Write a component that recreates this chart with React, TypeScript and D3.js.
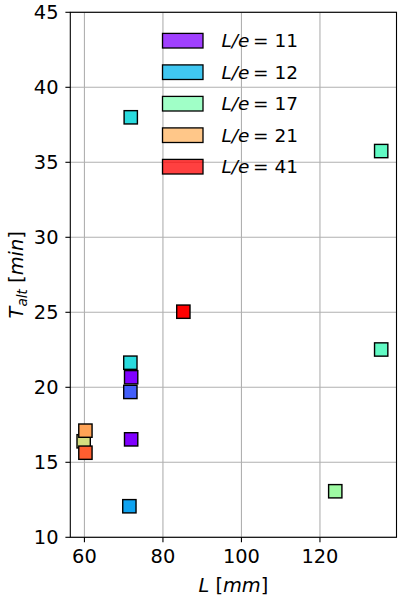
import React from "react";
import * as d3 from "d3";

// Data
const lengths = [71.8, 135.6, 85.2, 59.8, 71.7, 71.9, 71.7, 71.9, 60.25, 60.25, 71.45, 135.6, 123.9];
const times = [38.0, 35.75, 25.04, 16.4, 21.64, 20.67, 19.69, 16.53, 17.11, 15.64, 12.07, 22.52, 13.07];
const colorParams = [0.33, 0.44, 1.0, 0.665, 0.33, 0.0, 0.12, 0.0, 0.78, 0.88, 0.22, 0.44, 0.56];

const legendValues = [11, 12, 17, 21, 41];
const legendParams = [0, 0.25, 0.5, 0.75, 1];

const xTicks = [60, 80, 100, 120];
const yTicks = [10, 15, 20, 25, 30, 35, 40, 45];

// matplotlib "rainbow" colormap
function rainbow(t: number): string {
  const clip = (v: number) => Math.max(0, Math.min(1, v));
  const r = clip(Math.abs(2 * t - 0.5));
  const g = clip(Math.sin(Math.PI * t));
  const b = clip(Math.cos((Math.PI * t) / 2));
  return d3.rgb(r * 255, g * 255, b * 255).formatHex();
}

const FONT = "DejaVu Sans";

export default function App() {
  const W = 400;
  const H = 600;
  const left = 70.3;
  const right = 396.5;
  const top = 12.3;
  const bottom = 537.3;

  const x = d3.scaleLinear().domain([56.4, 139.5]).range([left, right]);
  const y = d3.scaleLinear().domain([10, 45]).range([bottom, top]);

  const ms = 13.3;
  const gridColor = "#b0b0b0";

  return (
    <svg
      width={W}
      height={H}
      style={{ position: "absolute", left: 0, top: 0, background: "#fff" }}
      fontFamily={FONT}
    >
      <rect x={0} y={0} width={W} height={H} fill="#fff" />
      {/* grid */}
      <g>
        {xTicks.map((t) => (
          <line key={"gx" + t} x1={x(t)} x2={x(t)} y1={top} y2={bottom} stroke={gridColor} strokeWidth={1.1} />
        ))}
        {yTicks.map((t) => (
          <line key={"gy" + t} x1={left} x2={right} y1={y(t)} y2={y(t)} stroke={gridColor} strokeWidth={1.1} />
        ))}
      </g>

      {/* legend (no frame) */}
      <g>
        {legendValues.map((v, i) => {
          const cy = 40.7 + i * 31.5;
          return (
            <g key={"lg" + v}>
              <rect
                x={162.5}
                y={cy - 7.3}
                width={40.5}
                height={14.6}
                fill={rainbow(legendParams[i])}
                fillOpacity={0.75}
                stroke="#000"
                strokeWidth={1.3}
              />
              <text x={221.5} y={cy + 6.7} fontSize={18.5} fill="#000">
                <tspan fontStyle="italic">L/e</tspan>
                <tspan>{"\u2009= " + v}</tspan>
              </text>
            </g>
          );
        })}
      </g>

      {/* markers */}
      <g>
        {lengths.map((L, i) => (
          <rect
            key={"pt" + i}
            x={x(L) - ms / 2}
            y={y(times[i]) - ms / 2}
            width={ms}
            height={ms}
            fill={rainbow(colorParams[i])}
            stroke="#000"
            strokeWidth={1.4}
          />
        ))}
      </g>

      {/* frame */}
      <rect x={left} y={top} width={right - left} height={bottom - top} fill="none" stroke="#000" strokeWidth={1.1} />

      {/* x ticks */}
      <g>
        {xTicks.map((t) => (
          <g key={"xt" + t}>
            <line x1={x(t)} x2={x(t)} y1={bottom} y2={bottom + 4.9} stroke="#000" strokeWidth={1.1} />
            <text x={x(t)} y={563.3} fontSize={19.4} textAnchor="middle" fill="#000">
              {t}
            </text>
          </g>
        ))}
      </g>
      {/* y ticks */}
      <g>
        {yTicks.map((t) => (
          <g key={"yt" + t}>
            <line x1={left - 4.9} x2={left} y1={y(t)} y2={y(t)} stroke="#000" strokeWidth={1.1} />
            <text x={58.5} y={y(t) + 7} fontSize={19.4} textAnchor="end" fill="#000">
              {t}
            </text>
          </g>
        ))}
      </g>

      {/* x label */}
      <text x={(left + right) / 2} y={591.5} fontSize={19.4} textAnchor="middle" fill="#000">
        <tspan fontStyle="italic">L</tspan>
        <tspan>{" ["}</tspan>
        <tspan fontStyle="italic">mm</tspan>
        <tspan>]</tspan>
      </text>

      {/* y label */}
      <text
        transform={`translate(23.3, ${(top + bottom) / 2}) rotate(-90)`}
        fontSize={19.4}
        textAnchor="middle"
        fill="#000"
      >
        <tspan fontStyle="italic">T</tspan>
        <tspan fontStyle="italic" fontSize={13.6} dy={3.5}>alt</tspan>
        <tspan dy={-3.5}>{" ["}</tspan>
        <tspan fontStyle="italic">min</tspan>
        <tspan>]</tspan>
      </text>
    </svg>
  );
}
